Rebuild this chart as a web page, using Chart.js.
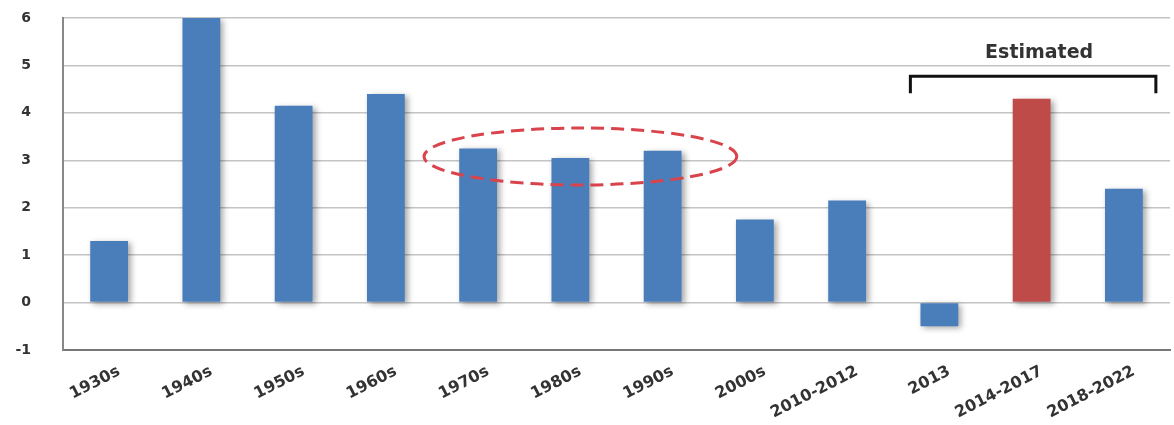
<!DOCTYPE html>
<html>
<head>
<meta charset="utf-8">
<script src="https://cdn.jsdelivr.net/npm/chart.js@4/dist/chart.umd.min.js"></script>
<style>
  html, body { margin: 0; padding: 0; background: #fff; }
  #wrap { width: 1174px; height: 425px; }
</style>
</head>
<body>
<div id="wrap"><canvas id="chart"></canvas></div>
<script>
// data
const categories = ['1930s', '1940s', '1950s', '1960s', '1970s', '1980s', '1990s', '2000s', '2010-2012', '2013', '2014-2017', '2018-2022'];
const values = [1.3, 6.0, 4.15, 4.4, 3.25, 3.05, 3.2, 1.75, 2.15, -0.5, 4.3, 2.4];
const estimatedFrom = '2013';
const estimatedTo = '2018-2022';
const estimatedLabel = 'Estimated';
const circledFrom = '1970s';
const circledTo = '1990s';
const highlight = '2014-2017';

const blue = '#4a7ebb';
const red = '#be4b48';
const font = '"DejaVu Sans", Verdana, sans-serif';

// bar shadow + the extra marks (bracket, dashed ellipse)
const extras = {
    id: 'extras',
    beforeDatasetsDraw(chart) {
        const ctx = chart.ctx;
        ctx.save();
        ctx.shadowColor = 'rgba(0,0,0,0.35)';
        ctx.shadowBlur = 6;
        ctx.shadowOffsetX = 3;
        ctx.shadowOffsetY = 2;
    },
    afterDatasetsDraw(chart) {
        const ctx = chart.ctx;
        ctx.restore();
        const x = chart.scales.x, y = chart.scales.y;
        const half = x.width / categories.length / 2;

        // Estimated bracket
        const bx1 = x.getPixelForValue(categories.indexOf(estimatedFrom)) - 29;
        const bx2 = x.getPixelForValue(categories.indexOf(estimatedTo)) + 32;
        const by = y.getPixelForValue(4.77);
        ctx.save();
        ctx.strokeStyle = '#111';
        ctx.lineWidth = 3;
        ctx.beginPath();
        ctx.moveTo(bx1, by + 17);
        ctx.lineTo(bx1, by);
        ctx.lineTo(bx2, by);
        ctx.lineTo(bx2, by + 17);
        ctx.stroke();
        ctx.fillStyle = '#333';
        ctx.font = 'bold 19px ' + font;
        ctx.textAlign = 'center';
        ctx.textBaseline = 'middle';
        ctx.fillText(estimatedLabel, (bx1 + bx2) / 2 + 6, y.getPixelForValue(5.27));
        ctx.restore();

        // dashed ellipse round the flat decades
        const ex1 = x.getPixelForValue(categories.indexOf(circledFrom)) - half - 8;
        const ex2 = x.getPixelForValue(categories.indexOf(circledTo)) + half + 28;
        const ecy = y.getPixelForValue(3.08);
        const ery = y.getPixelForValue(2.48) - ecy;
        ctx.save();
        ctx.strokeStyle = '#d9434b';
        ctx.lineWidth = 3;
        ctx.setLineDash([13, 7]);
        ctx.beginPath();
        ctx.ellipse((ex1 + ex2) / 2, ecy, (ex2 - ex1) / 2, ery, 0, 0, Math.PI * 2);
        ctx.stroke();
        ctx.restore();
    }
};

new Chart(document.getElementById('chart').getContext('2d'), {
    type: 'bar',
    data: {
        labels: categories,
        datasets: [{
            data: values,
            backgroundColor: categories.map(c => c === highlight ? red : blue),
            barPercentage: 0.41,
            categoryPercentage: 1
        }]
    },
    options: {
        responsive: true,
        maintainAspectRatio: false,
        animation: false,
        layout: { padding: { top: 0, right: 4, left: 0, bottom: 0 } },
        plugins: { legend: { display: false }, tooltip: { enabled: false } },
        scales: {
            x: {
                grid: { display: false },
                border: { color: '#777', width: 2 },
                afterFit(scale) { scale.height = 75; },
                ticks: {
                    minRotation: 27,
                    maxRotation: 27,
                    padding: 4,
                    labelOffset: 10,
                    color: '#333',
                    font: { size: 16, weight: 'bold', family: font }
                }
            },
            y: {
                min: -1,
                max: 6,
                afterFit(scale) { scale.width = 63; scale.paddingTop = 18; },
                ticks: {
                    stepSize: 1,
                    color: '#333',
                    padding: 32,
                    font: { size: 14, weight: 'bold', family: font }
                },
                grid: { color: '#c4c4c4', lineWidth: 1.5, drawTicks: false },
                border: { color: '#888', width: 2 }
            }
        }
    },
    plugins: [extras]
});
</script>
</body>
</html>
